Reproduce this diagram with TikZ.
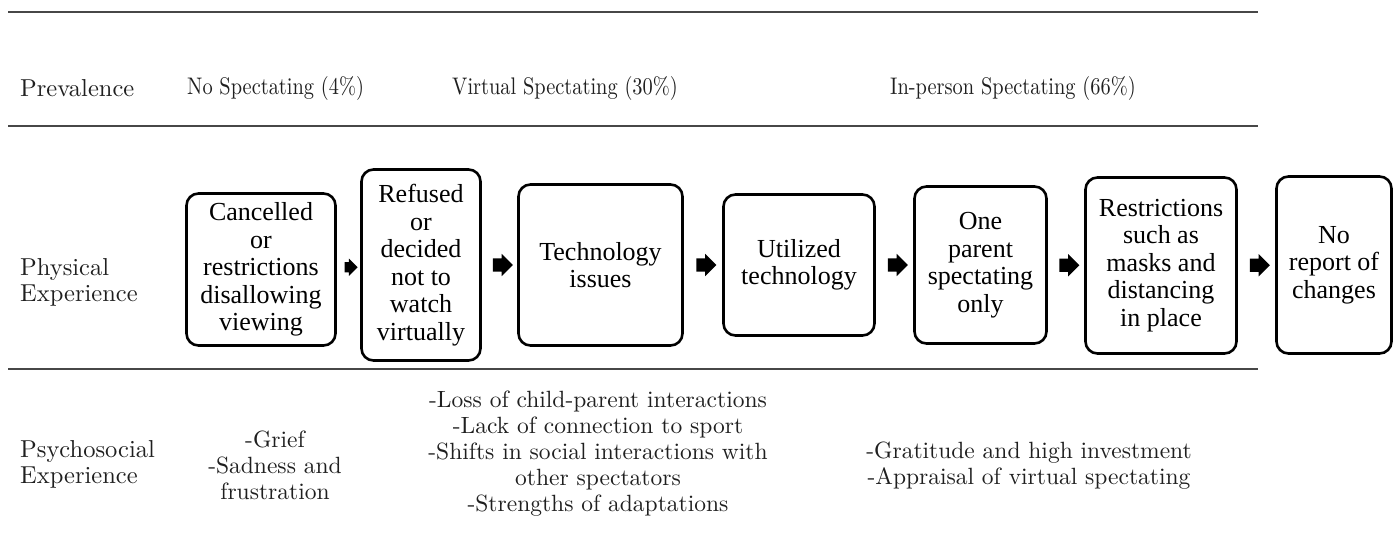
\documentclass[tikz,border=0pt]{standalone}
\usepackage{fontspec}
\newfontfamily\boxfont{Liberation Serif}
\newfontfamily\tabfont{lmroman10-regular.otf}
\newfontfamily\headfont{lmroman10-regular.otf}[FakeStretch=0.85]
\usetikzlibrary{shapes.arrows,calc}
\begin{document}
\begin{tikzpicture}[x=1pt,y=-1pt,
  rule/.style={draw=black!72, line width=2.4pt},
  tabtext/.style={anchor=west, font=\tabfont\fontsize{24.5}{26}\selectfont, text=black!88, inner sep=0pt, align=left},
  headtext/.style={anchor=west, font=\headfont\fontsize{24}{26}\selectfont, text=black!88, inner sep=0pt},
  listtext/.style={font=\tabfont\fontsize{23.5}{26}\selectfont, text=black!88, inner sep=0pt, align=center},
  stepbox/.style={draw=black, line width=2.6pt, rounded corners=12pt, align=center, font=\boxfont\fontsize{26}{27.5}\selectfont, inner sep=0pt},
  blockarrow/.style={single arrow, fill=black, draw=none, minimum height=20pt, minimum width=22pt, single arrow head extend=4.5pt, inner sep=0pt},
  smallarrow/.style={blockarrow, minimum height=13pt, minimum width=17pt, single arrow head extend=3.5pt}
]
\useasboundingbox (0,0) rectangle (1400,552);
% rules
\draw[rule] (8,12) -- (1258,12);
\draw[rule] (8,126) -- (1258,126);
\draw[rule] (8,369) -- (1258,369);
% header row
\node[tabtext] (prev) at (20,88) {Prevalence};
\node[headtext] (nospec) at (187,88) {No Spectating (4\%)};
\node[headtext] (virt) at (452,88) {Virtual Spectating (30\%)};
\node[headtext] (inper) at (890,88) {In-person Spectating (66\%)};
% row labels
\node[tabtext] (phys) at (20,282) {Physical\\Experience};
\node[tabtext] (psy) at (20,464) {Psychosocial\\Experience};
% boxes
\node[stepbox, minimum width=149pt, minimum height=152pt] (b1) at (261,269.5) {Cancelled\\or\\restrictions\\disallowing\\viewing};
\node[stepbox, minimum width=119pt, minimum height=191pt] (b2) at (421,265) {Refused\\or\\decided\\not to\\watch\\virtually};
\node[stepbox, minimum width=164pt, minimum height=161pt] (b3) at (600.5,265) {Technology\\issues};
\node[stepbox, minimum width=151pt, minimum height=141pt] (b4) at (799,265) {Utilized\\technology};
\node[stepbox, minimum width=132pt, minimum height=157pt] (b5) at (980.5,265) {One\\parent\\spectating\\only};
\node[stepbox, minimum width=151pt, minimum height=176pt] (b6) at (1161,265.5) {Restrictions\\such as\\masks and\\distancing\\in place};
\node[stepbox, minimum width=115pt, minimum height=177pt] (b7) at (1334,265) {No\\report of\\changes};
% arrows
\node[smallarrow] (a1) at ($(b1.east)!0.5!(b2.west)$) {\rule{0pt}{10pt}};
\node[blockarrow] (a2) at ($(b2.east)!0.5!(b3.west)$) {\rule{0pt}{13pt}};
\node[blockarrow] (a3) at ($(b3.east)!0.5!(b4.west)$) {\rule{0pt}{13pt}};
\node[blockarrow] (a4) at ($(b4.east)!0.5!(b5.west)$) {\rule{0pt}{13pt}};
\node[blockarrow] (a5) at ($(b5.east)!0.5!(b6.west)$) {\rule{0pt}{13pt}};
\node[blockarrow] (a6) at ($(b6.east)!0.5!(b7.west)$) {\rule{0pt}{13pt}};
% psychosocial row
\node[listtext] (grief) at (275,465) {-Grief\\-Sadness and\\frustration};
\node[listtext] (vlist) at (598,454) {-Loss of child-parent interactions\\-Lack of connection to sport\\-Shifts in social interactions with\\other spectators\\-Strengths of adaptations};
\node[listtext] (ilist) at (1029,466) {-Gratitude and high investment\\-Appraisal of virtual spectating};
\end{tikzpicture}
\end{document}
